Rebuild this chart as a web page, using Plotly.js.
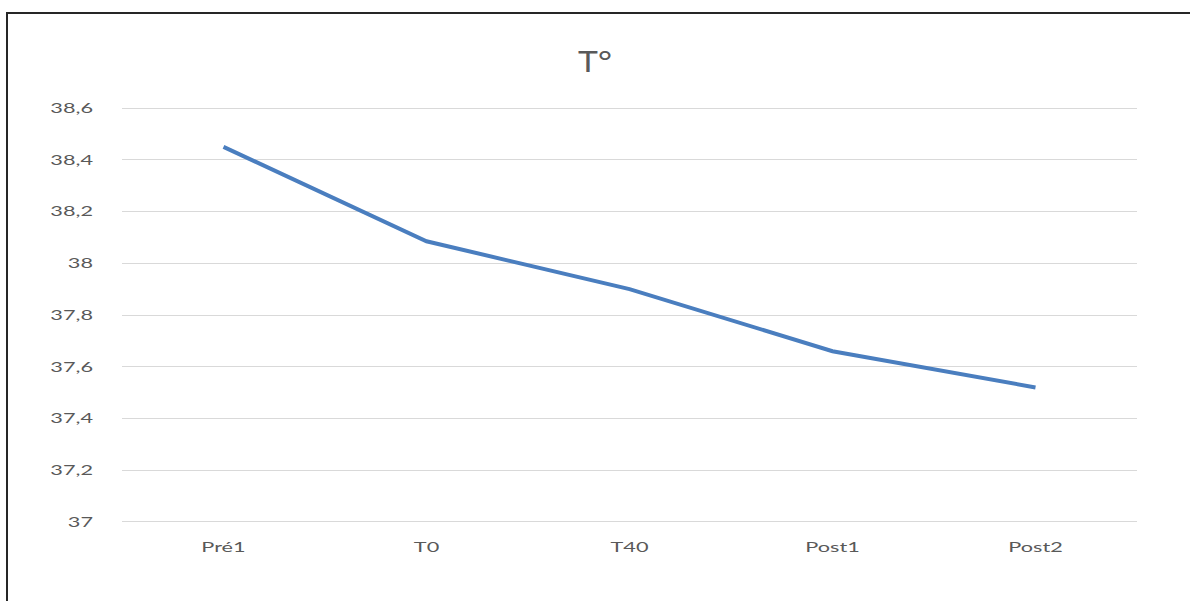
<!DOCTYPE html>
<html>
<head>
<meta charset="utf-8">
<script src="https://cdn.plot.ly/plotly-3.0.1.min.js"></script>
<style>
  html, body { margin: 0; padding: 0; background: #ffffff; }
  #frame { position: absolute; left: 6px; top: 12px; width: 1184px; height: 589px;
           border-top: 2px solid #262626; border-left: 2px solid #262626; box-sizing: border-box; }
  #chart { position: absolute; left: 0; top: 0; width: 1190px; height: 601px; }
</style>
</head>
<body>
<div id="frame"></div>
<div id="chart"></div>
<script>
const categories = ["Pré1", "T0", "T40", "Post1", "Post2"];
const temperature = [38.45, 38.085, 37.90, 37.66, 37.52];
const yTickValues = [37, 37.2, 37.4, 37.6, 37.8, 38, 38.2, 38.4, 38.6];
const yTickLabels = ["37", "37,2", "37,4", "37,6", "37,8", "38", "38,2", "38,4", "38,6"];

const trace = {
  x: categories,
  y: temperature,
  type: "scatter",
  mode: "lines",
  line: { color: "#4a7ebf", width: 4 },
  hoverinfo: "x+y"
};

const layout = {
  width: 1190,
  height: 601,
  margin: { l: 122, r: 53, t: 107, b: 78 },
  paper_bgcolor: "rgba(0,0,0,0)",
  plot_bgcolor: "rgba(0,0,0,0)",
  showlegend: false,
  separators: ", ",
  font: { family: "Lato, 'Open Sans', sans-serif", color: "#595959", size: 14 },
  title: {
    text: "T°",
    font: { family: "Lato, 'Open Sans', sans-serif", size: 28, color: "#595959" },
    x: 0.5, xanchor: "center",
    y: 1 - 62 / 601, yanchor: "middle"
  },
  xaxis: {
    type: "category",
    range: [-0.5, 4.5],
    showgrid: false,
    zeroline: false,
    showline: false,
    ticks: "",
    ticklabelstandoff: 14,
    tickfont: { size: 14, color: "#595959" },
    fixedrange: true
  },
  yaxis: {
    range: [36.996, 38.604],
    tickvals: yTickValues,
    ticktext: yTickLabels,
    showgrid: true,
    gridcolor: "#d9d9d9",
    gridwidth: 1,
    zeroline: false,
    showline: false,
    ticks: "",
    ticklabelstandoff: 28,
    tickfont: { size: 14, color: "#595959" },
    fixedrange: true
  }
};

function stretch(sel, factor) {
  document.querySelectorAll(sel).forEach(function (el) {
    const w = el.getComputedTextLength();
    if (w > 0) {
      el.setAttribute("textLength", (w * factor).toFixed(1));
      el.setAttribute("lengthAdjust", "spacingAndGlyphs");
    }
  });
}

Plotly.newPlot("chart", [trace], layout, { displayModeBar: false, staticPlot: true }).then(function () {
  stretch("#chart g.xtick text", 1.55);
  stretch("#chart g.ytick text", 1.55);
  stretch("#chart .gtitle", 1.2);
});
</script>
</body>
</html>
